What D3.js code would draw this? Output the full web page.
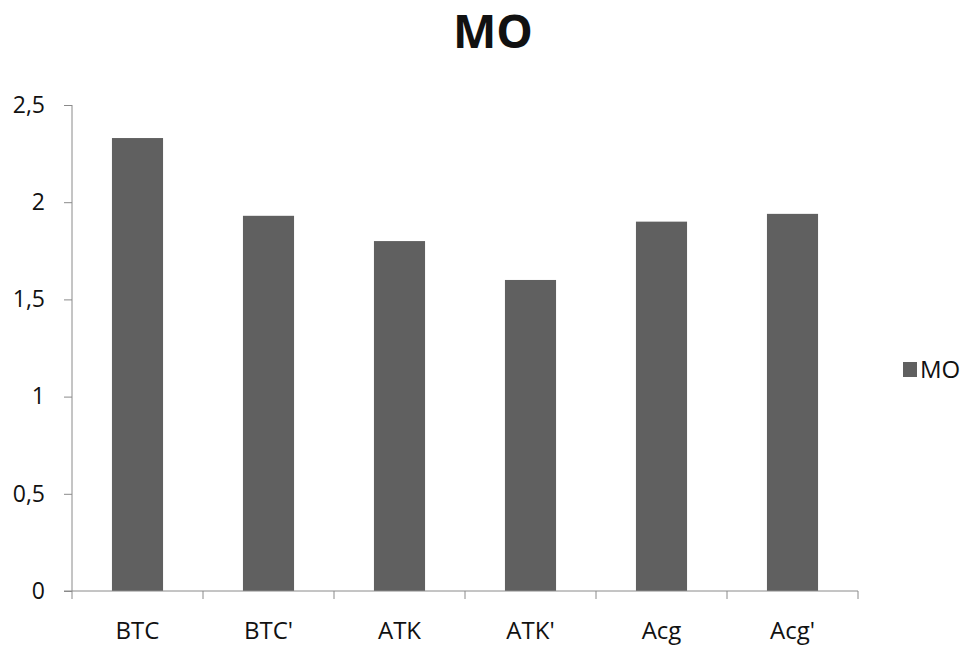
<!DOCTYPE html>
<html>
<head>
<meta charset="utf-8">
<script src="https://cdn.jsdelivr.net/npm/d3@7"></script>
<style>
  html, body { margin: 0; padding: 0; background: #fff; }
  svg { display: block; font-family: "Open Sans", "Noto Sans", sans-serif; }
</style>
</head>
<body>
<svg id="chart" width="968" height="650"></svg>
<script>
// Organic matter (MO) by sample
const categories = ["BTC", "BTC'", "ATK", "ATK'", "Acg", "Acg'"];
const moValues = [2.33, 1.93, 1.8, 1.6, 1.9, 1.94];
const yTicks = [0, 0.5, 1, 1.5, 2, 2.5];
const yTickLabels = ["0", "0,5", "1", "1,5", "2", "2,5"];
const seriesName = "MO";

const svg = d3.select("#chart");
const plot = { left: 72, right: 858, top: 105, bottom: 591 };
const barColor = "#606060";
const axisColor = "#8a8a8a";

const x = d3.scaleBand()
  .domain(categories)
  .range([plot.left, plot.right])
  .paddingInner(0.61)
  .paddingOuter(0.305);

const y = d3.scaleLinear()
  .domain([0, 2.5])
  .range([plot.bottom, plot.top]);

// Title
svg.append("text")
  .attr("x", 493)
  .attr("y", 48)
  .attr("text-anchor", "middle")
  .attr("font-size", 46)
  .attr("font-weight", "bold")
  .attr("fill", "#111")
  .text(seriesName);

// Bars
svg.append("g")
  .selectAll("rect")
  .data(categories.map((c, i) => ({ c, v: moValues[i] })))
  .join("rect")
  .attr("x", d => x(d.c))
  .attr("y", d => y(d.v))
  .attr("width", x.bandwidth())
  .attr("height", d => y(0) - y(d.v))
  .attr("fill", barColor);

// Y axis
const yAxis = d3.axisLeft(y)
  .tickValues(yTicks)
  .tickFormat((d, i) => yTickLabels[i])
  .tickSize(8)
  .tickPadding(19);

const gy = svg.append("g")
  .attr("transform", `translate(${plot.left},0)`)
  .call(yAxis);
gy.select(".domain").attr("stroke", axisColor).attr("d", `M-0,${plot.top}V${plot.bottom}`);
gy.selectAll(".tick line").attr("stroke", axisColor);
gy.selectAll(".tick text")
  .attr("font-size", 23)
  .attr("fill", "#111")
  .attr("font-family", "Open Sans, sans-serif");

// X axis
const xAxis = d3.axisBottom(x).tickSize(0).tickPadding(31);
const gx = svg.append("g")
  .attr("transform", `translate(0,${plot.bottom})`)
  .call(xAxis);
gx.select(".domain").attr("stroke", axisColor).attr("d", `M${plot.left - 8},0H${plot.right}`);
gx.selectAll(".tick text")
  .attr("font-size", 24)
  .attr("fill", "#111")
  .attr("font-family", "Open Sans, sans-serif");

// Category boundary tick marks
const step = x.step();
gx.append("g")
  .selectAll("line")
  .data(d3.range(categories.length + 1))
  .join("line")
  .attr("x1", i => plot.left + i * step)
  .attr("x2", i => plot.left + i * step)
  .attr("y1", 0)
  .attr("y2", 8)
  .attr("stroke", axisColor);

// Legend
const legend = svg.append("g").attr("transform", "translate(903,362)");
legend.append("rect")
  .attr("width", 14)
  .attr("height", 15)
  .attr("fill", barColor);
legend.append("text")
  .attr("x", 17)
  .attr("y", 16)
  .attr("font-size", 24)
  .attr("fill", "#111")
  .text(seriesName);
</script>
</body>
</html>
